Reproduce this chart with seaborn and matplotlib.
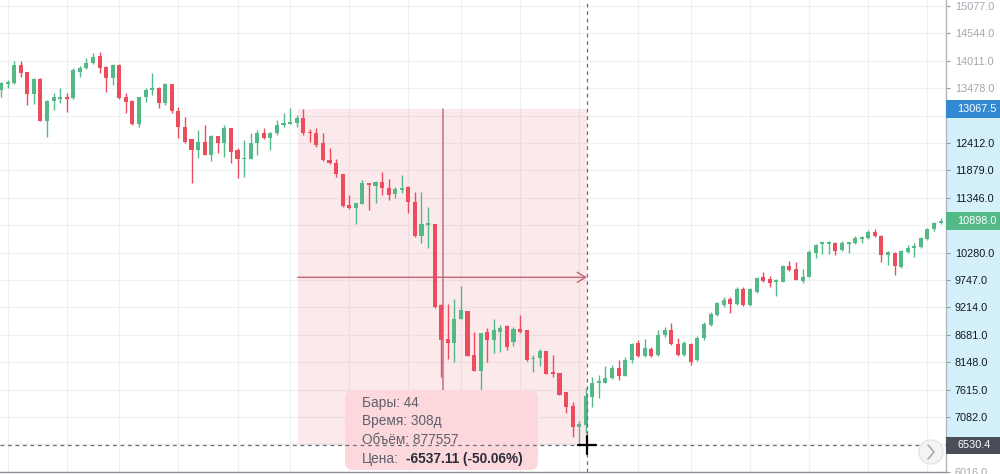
import numpy as np
import pandas as pd
import matplotlib
matplotlib.use("Agg")
import matplotlib.pyplot as plt
import matplotlib.transforms as mtransforms
from matplotlib.patches import Rectangle, FancyBboxPatch, Circle
import seaborn as sns

# ---------------- data (weekly candles) ----------------
opens = [13442, 13558, 13578, 13928, 13792, 13364, 13655, 12839, 13228, 13266,
         13305, 13286, 13792, 13869, 13967, 14103, 13889, 13675, 13928, 13305,
         13228, 12780, 13305, 13442, 13480, 13189, 13558, 13033, 12722, 12488,
         12274, 12430, 12177, 12547, 12411, 12702, 12274, 12099, 12099, 12411,
         12605, 12508, 12605, 12761, 12790, 12800, 12897, 12625, 12605, 12411,
         12080, 12022, 11808, 11205, 11146, 11224, 11633, 11574, 11652, 11535,
         11419, 11496, 11555, 11263, 10602, 10825, 10835, 9260, 8598, 8521,
         8987, 9143, 8287, 7976, 8735, 8579, 8735, 8851, 8540, 8793,
         8773, 8209, 8229, 8365, 7957, 7938, 7568, 7295, 6887, 6926,
         7470, 7752, 7743, 7840, 8034, 7879, 8190, 8521, 8268, 8404,
         8287, 8676, 8773, 8501, 8287, 8501, 8190, 8618, 8871, 9065,
         9260, 9376, 9279, 9571, 9260, 9513, 9804, 9765, 9717, 9707,
         10018, 9960, 9727, 9804, 10271, 10456, 10456, 10466, 10329, 10456,
         10466, 10543, 10563, 10680, 10602, 10232, 10271, 9999, 10291, 10378,
         10388, 10543, 10738, 10860]
closes = [13578, 13597, 13928, 13772, 13364, 13655, 12839, 13228, 13305, 13305,
          13266, 13830, 13869, 13967, 14083, 13869, 13675, 13928, 13286, 13208,
          12780, 13305, 13442, 13480, 13189, 13558, 13033, 12722, 12430, 12274,
          12430, 12177, 12547, 12411, 12702, 12236, 12099, 12119, 12411, 12605,
          12508, 12605, 12761, 12800, 12810, 12897, 12605, 12600, 12372, 12080,
          12022, 11808, 11185, 11146, 11244, 11633, 11594, 11652, 11535, 11399,
          11516, 11535, 11263, 10602, 10835, 10845, 9221, 8579, 8521, 8987,
          9162, 8268, 7976, 8715, 8579, 8773, 8812, 8443, 8793, 8735,
          8190, 8229, 8365, 7918, 7918, 7509, 7276, 6887, 6945, 7490,
          7743, 7772, 7840, 8034, 7879, 8190, 8501, 8268, 8423, 8268,
          8676, 8773, 8501, 8287, 8521, 8151, 8618, 8890, 9085, 9299,
          9357, 9279, 9571, 9260, 9571, 9785, 9727, 9688, 9737, 10018,
          9940, 9746, 9804, 10291, 10427, 10476, 10476, 10310, 10466, 10476,
          10563, 10582, 10680, 10602, 10232, 10291, 10018, 10310, 10368, 10398,
          10563, 10738, 10855, 10898]
highs = [13597, 13636, 14006, 14006, 13800, 13675, 13675, 13247, 13383, 13480,
         13383, 13869, 13908, 14064, 14161, 14181, 13900, 13947, 13940, 13383,
         13240, 13310, 13480, 13772, 13500, 13578, 13565, 13111, 12916, 12495,
         12663, 12761, 12566, 12555, 12761, 12710, 12313, 12469, 12605, 12663,
         12702, 12625, 12858, 12994, 13100, 12955, 13067, 12683, 12702, 12605,
         12313, 12099, 11815, 11399, 11250, 11691, 11640, 11672, 11847, 11710,
         11555, 11788, 11574, 11458, 11458, 11166, 10845, 9270, 9279, 9376,
         9629, 9150, 8735, 8720, 8812, 8987, 8871, 8871, 8832, 9065,
         8780, 8287, 8404, 8375, 8287, 7945, 7575, 7373, 7004, 7645,
         7859, 7898, 8073, 8093, 8190, 8248, 8521, 8579, 8598, 8440,
         8773, 8832, 8910, 8618, 8560, 8530, 8650, 8929, 9124, 9318,
         9415, 9415, 9610, 9610, 9590, 9810, 9902, 9824, 9765, 10038,
         10116, 10096, 9960, 10329, 10446, 10485, 10505, 10485, 10500, 10485,
         10600, 10602, 10718, 10738, 10620, 10310, 10291, 10329, 10427, 10466,
         10582, 10757, 10874, 10952]
lows = [13305, 13480, 13560, 13694, 13150, 13169, 12830, 12527, 13052, 13189,
        13014, 13266, 13694, 13850, 13947, 13772, 13403, 13539, 13270, 12994,
        12770, 12722, 13208, 13344, 13091, 13150, 12994, 12508, 12411, 11633,
        12119, 12170, 12061, 12216, 12138, 12022, 11730, 11749, 12090, 12177,
        12488, 12274, 12566, 12722, 12780, 12722, 12566, 12430, 12333, 12070,
        12002, 11749, 11175, 11127, 10835, 11215, 11107, 11244, 11399, 11302,
        11341, 11438, 11049, 10590, 10466, 10368, 9210, 7859, 8209, 8151,
        8980, 8260, 7970, 7548, 8151, 8326, 8346, 8384, 8462, 8725,
        8180, 7957, 8073, 7910, 7859, 7500, 7159, 6692, 6530, 6770,
        7276, 7451, 7735, 7830, 7801, 7870, 8132, 8248, 8248, 8248,
        8268, 8637, 8482, 8268, 8268, 8093, 8170, 8579, 8851, 9046,
        9221, 9104, 9260, 9250, 9250, 9500, 9707, 9610, 9435, 9700,
        9921, 9740, 9688, 9795, 10174, 10252, 10252, 10232, 10310, 10271,
        10446, 10466, 10543, 10582, 10096, 10038, 9843, 9979, 10271, 10193,
        10368, 10524, 10699, 10835]

price_ticks = [6016.0, 6549.0, 7082.0, 7615.0, 8148.0, 8681.0, 9214.0, 9747.0,
               10280.0, 10813.0, 11346.0, 11879.0, 12412.0, 12945.0, 13478.0,
               14011.0, 14544.0, 15077.0]
time_grid_bars = [1, 10, 18, 27, 36, 44, 53, 62, 70, 79, 88, 97, 105, 114, 123, 132, 141]

range_high = 13067.5
range_low = 6530.4
last_close = 10898.0
range_start_bar = 45.2
range_end_bar = 89.2

tip_labels = ["Бары:", "Время:", "Объём:", "Цена:"]
tip_values = ["44", "308д", "877557", "-6537.11 (-50.06%)"]

# ---------------- style ----------------
sns.set_theme(style="white")
plt.rcParams['font.family'] = ['Liberation Sans', 'DejaVu Sans']

GREEN = '#53b987'
RED = '#eb4d5c'
GRID = '#eef0f3'
RANGE_LINE = '#c0717a'

df = pd.DataFrame({'open': opens, 'high': highs, 'low': lows, 'close': closes})
df['bar'] = np.arange(len(df))
df['up'] = df['close'] >= df['open']
cols = np.where(df['up'], GREEN, RED)

W, H = 1000, 474
fig = plt.figure(figsize=(W / 100, H / 100), dpi=100)
ax = fig.add_axes([0, 2 / H, 946 / W, 472 / H])
ax.set_xlim(-0.152, 143.83)
ax.set_ylim(6012, 15192)

# pixel transform (top-left origin) for UI overlay pieces
PIX = mtransforms.Affine2D().scale(1, -1).translate(0, H)

# grid
ax.set_yticks(price_ticks)
ax.set_xticks(time_grid_bars)
ax.grid(True, color=GRID, lw=0.9, zorder=0)
ax.set_axisbelow(True)

# range box
ax.add_patch(Rectangle((range_start_bar, range_low), range_end_bar - range_start_bar,
                       range_high - range_low, facecolor=RED, alpha=0.12, lw=0, zorder=1))
mid_price = (range_high + range_low) / 2
mid_bar = (range_start_bar + range_end_bar) / 2
ax.annotate('', xy=(range_end_bar, mid_price), xytext=(range_start_bar, mid_price),
            arrowprops=dict(arrowstyle='->,head_length=0.5,head_width=0.3', color=RANGE_LINE,
                            lw=1.1, shrinkA=0, shrinkB=0), zorder=2)
ax.plot([mid_bar, mid_bar], [range_high, range_low], color=RANGE_LINE, lw=1.1, zorder=2)

# candles
ax.vlines(df['bar'], df['low'], df['high'], colors=cols, lw=1.0, zorder=3)
body = (df['close'] - df['open']).abs().clip(lower=22)
ax.bar(df['bar'], body, bottom=np.minimum(df['open'], df['close']), width=0.62,
       color=cols, lw=0, zorder=4)

# axis styling
sns.despine(ax=ax, left=True, top=True, right=False, bottom=False)
ax.spines['right'].set_color('#b2b5be')
ax.spines['right'].set_linewidth(1.0)
ax.spines['bottom'].set_color('#8f929b')
ax.spines['bottom'].set_linewidth(1.0)
ax.yaxis.tick_right()
marked = [range_high, last_close, range_low]
tick_text = []
for v in price_ticks:
    covered = any(abs(v - m) < 250 for m in marked)
    tick_text.append('' if covered else f"{v:.1f}")
ax.set_yticklabels(tick_text)
ax.tick_params(axis='y', direction='out', length=3, width=0.8, color='#9598a1',
               labelsize=7.8, pad=3.3)
ax.tick_params(axis='x', length=0, labelbottom=False)
for lab, v in zip(ax.get_yticklabels(), price_ticks):
    lab.set_color('#131722' if range_low <= v <= range_high else '#a3a6af')

blend = mtransforms.blended_transform_factory(ax.transAxes, ax.transData)
# axis highlight
ax.add_patch(Rectangle((1.0, range_low), 60 / 946, range_high - range_low, transform=blend,
                       facecolor='#d3f0fb', lw=0, zorder=0.5, clip_on=False))

# tooltip
ax.add_patch(FancyBboxPatch((345, 390), 193, 80, boxstyle='round,pad=0,rounding_size=8',
                            transform=PIX, facecolor='#fcd8dc', edgecolor='none',
                            zorder=6, clip_on=False))
ys = [403, 421.5, 440, 458.5]
for lab, val, y in zip(tip_labels, tip_values, ys):
    if lab == "Цена:":
        ax.text(362, y, lab, transform=PIX, fontsize=9.8, color='#5d606b', va='center',
                zorder=7)
        ax.text(406, y, val, transform=PIX, fontsize=9.8, color='#2a2e39', va='center',
                fontweight='bold', zorder=7)
    else:
        ax.text(362, y, f"{lab} {val}", transform=PIX, fontsize=9.8, color='#5d606b',
                va='center', zorder=7)

# crosshair
ax.axvline(range_end_bar, color='#6a6d78', lw=0.9, ls=(0, (3, 3)), zorder=8)
ax.axhline(range_low, color='#6a6d78', lw=0.9, ls=(0, (3, 3)), zorder=8)
ax.plot([587 - 9, 587 + 9], [445, 445], transform=PIX, color='black', lw=1.6, zorder=9,
        clip_on=False)
ax.plot([587, 587], [445 - 9, 445 + 9], transform=PIX, color='black', lw=1.6, zorder=9,
        clip_on=False)

# scroll button
ax.add_patch(Circle((931, 452), 12, transform=PIX, facecolor='#f4f4f5', edgecolor='#e3e4e7',
                    lw=1, zorder=8, clip_on=False))
ax.plot([928, 934, 928], [445, 452, 459], transform=PIX, color='#a8abb3', lw=1.2, zorder=9,
        clip_on=False)

# price labels on the axis
def price_label(y, text, fc):
    h = 340
    ax.add_patch(Rectangle((1.0, y - h / 2), 56 / 946, h, transform=blend, facecolor=fc,
                           lw=0, zorder=10, clip_on=False))
    ax.text(957 / 946, y, text, transform=blend, color='white', fontsize=7.8,
            va='center', ha='left', zorder=11, clip_on=False)

price_label(range_high, f"{range_high:.1f}", '#3388d2')
price_label(last_close, f"{last_close:.1f}", GREEN)
price_label(range_low, f"{range_low:.1f}", '#4a4e59')

fig.savefig('out.png', dpi=100)
